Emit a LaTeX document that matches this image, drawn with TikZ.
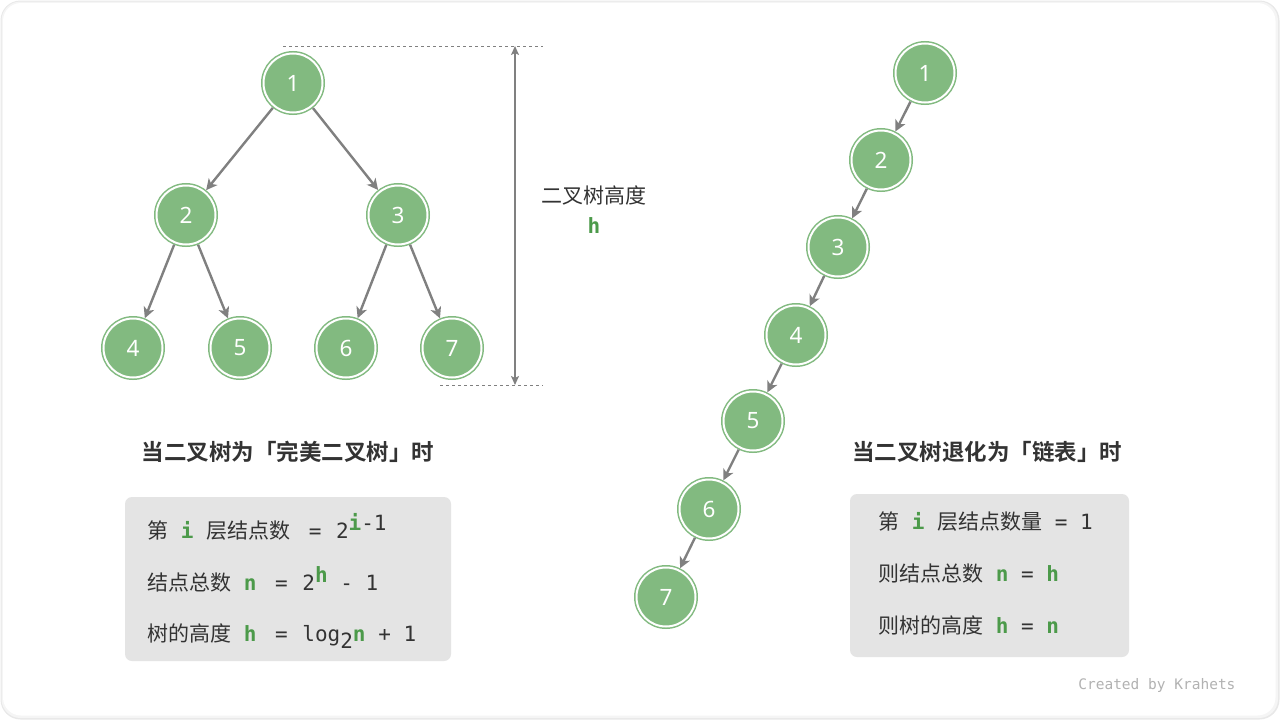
\documentclass[tikz,border=0pt]{standalone}
\usepackage{fontspec}
\usetikzlibrary{arrows.meta}
\newfontfamily\cjk{Noto Sans CJK SC}[BoldFont={Noto Sans CJK SC Bold}]
\newfontfamily\numfont{Noto Sans}
\setmonofont{DejaVu Sans Mono}
\definecolor{nodegreen}{RGB}{130,186,128}
\definecolor{vargreen}{RGB}{76,154,74}
\definecolor{edgegray}{RGB}{128,128,128}
\definecolor{boxgray}{RGB}{228,228,228}
\definecolor{textgray}{RGB}{51,51,51}
\newcommand\vr[1]{{\ttfamily\bfseries\color{vargreen}#1}}
\newcommand\zh[1]{{\cjk #1}}
\newcommand\eq{\hspace{6pt}=\space\hspace{2pt}}

\begin{document}
\begin{tikzpicture}[x=1pt, y=-1pt,
    treenode/.style={circle, fill=nodegreen, draw=nodegreen, double=white,
      line width=1.5pt, double distance=2pt, minimum size=59pt, inner sep=0pt,
      outer sep=2.5pt, text=white, font=\numfont\fontsize{22.5}{22.5}\selectfont},
    edge/.style={-{Stealth[length=11pt, width=11pt, inset=3pt]}, edgegray, line width=2.4pt},
    title/.style={text=textgray, font=\cjk\bfseries\fontsize{22.5}{22.5}\selectfont},
    infobox/.style={fill=boxgray, rounded corners=7pt, inner sep=0pt},
    infoline/.style={anchor=base west, inner sep=0pt, text=textgray,
      font=\ttfamily\fontsize{21}{21}\selectfont}]

    \useasboundingbox (0,0) rectangle (1280,720);

    % frame
    \fill[black!9, rounded corners=20pt] (0.5,0.5) rectangle (1279.5,719.5);
    \fill[black!4, rounded corners=19pt] (1.5,1.5) rectangle (1278,718);
    \fill[white, rounded corners=18pt] (3,3) rectangle (1275.5,715.5);

    % perfect binary tree
    \draw 
    (293, 83) node[treenode](P1){1}
    (186, 215) node[treenode](P2){2}
    (398, 215) node[treenode](P3){3}
    (133, 348) node[treenode](P4){4}
    (240, 348) node[treenode](P5){5}
    (346, 348) node[treenode](P6){6}
    (452, 348) node[treenode](P7){7};

    \draw[edge] (P1) -- (P2);
    \draw[edge] (P1) -- (P3);
    \draw[edge] (P2) -- (P4);
    \draw[edge] (P2) -- (P5);
    \draw[edge] (P3) -- (P6);
    \draw[edge] (P3) -- (P7);

    % height marker
    \draw[edgegray, dashed, line width=0.8pt] (283, 46) -- (543, 46);
    \draw[edgegray, dashed, line width=0.8pt] (440, 385) -- (543, 385);
    \coordinate (Htop) at (515, 46);
    \coordinate (Hbot) at (515, 385);
    \draw[{Stealth[length=9pt, width=8pt, inset=2pt]}-{Stealth[length=9pt, width=8pt, inset=2pt]}, edgegray, line width=1.5pt] (Htop) -- (Hbot);
    \node[text=textgray, font=\cjk\fontsize{21}{21}\selectfont] (Hlabel) at (594, 195) {二叉树高度};
    \node[font=\fontsize{21}{21}\selectfont] (Hvar) at (594, 226) {\vr{h}};

    % degenerate tree
    \draw 
    (925, 73) node[treenode](L1){1}
    (881, 160) node[treenode](L2){2}
    (838, 247) node[treenode](L3){3}
    (796, 335) node[treenode](L4){4}
    (753, 421) node[treenode](L5){5}
    (709, 509) node[treenode](L6){6}
    (666, 597) node[treenode](L7){7};

    \draw[edge] (L1) -- (L2);
    \draw[edge] (L2) -- (L3);
    \draw[edge] (L3) -- (L4);
    \draw[edge] (L4) -- (L5);
    \draw[edge] (L5) -- (L6);
    \draw[edge] (L6) -- (L7);

    % titles
    \node[title] (Ptitle) at (288, 452) {当二叉树为「完美二叉树」时};
    \node[title] (Ltitle) at (987, 452) {当二叉树退化为「链表」时};

    % formula boxes
    \node[infobox, minimum width=326pt, minimum height=164pt] (Pbox) at (288, 579) {};
    \node[infobox, minimum width=279pt, minimum height=163pt] (Lbox) at (989.5, 575.5) {};

    \node[infoline] (Pi) at (147, 538) {\zh{第} \vr{i} \zh{层结点数} \eq 2\raisebox{8pt}{\vr{i}-1}};
    \node[infoline] (Pn) at (147, 590) {\zh{结点总数} \vr{n} \eq 2\raisebox{8pt}{\vr{h}} - 1};
    \node[infoline] (Ph) at (147, 641) {\zh{树的高度} \vr{h} \eq log\raisebox{-7pt}{2}\vr{n} + 1};

    \node[infoline] (Li) at (878, 529) {\zh{第} \vr{i} \zh{层结点数量} = 1};
    \node[infoline] (Ln) at (878, 581) {\zh{则结点总数} \vr{n} = \vr{h}};
    \node[infoline] (Lh) at (878, 633) {\zh{则树的高度} \vr{h} = \vr{n}};

    % credit
    \node[anchor=east, text=black!30, font=\ttfamily\fontsize{14.5}{14.5}\selectfont] (Credit) at (1239, 685) {Created by Krahets};

  \end{tikzpicture}
\end{document}
